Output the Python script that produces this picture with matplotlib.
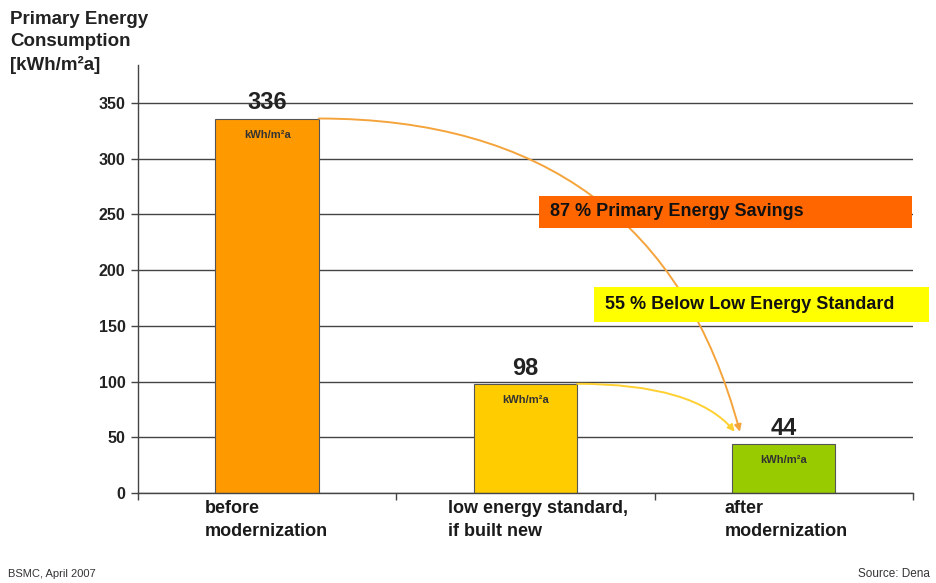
import matplotlib.pyplot as plt
import numpy as np
from matplotlib.patches import Rectangle

plt.rcParams["font.family"] = ["Liberation Sans", "DejaVu Sans"]

categories = ["before\nmodernization", "low energy standard,\nif built new", "after\nmodernization"]
consumption = [336, 98, 44]
bar_colors = ["#FF9900", "#FFCC00", "#99CC00"]
label_shift = [-0.24, -0.30, -0.23]  # left edge of category text relative to bar centre
unit = "kWh/m\u00b2a"
yticks = [0, 50, 100, 150, 200, 250, 300, 350]

fig = plt.figure(figsize=(9.36, 5.83), dpi=100)
ax = fig.add_axes([0.1474, 0.1544, 0.828, 0.7341])

x = np.arange(len(consumption))
bars = ax.bar(x, consumption, width=0.4, color=bar_colors, edgecolor="#555555",
              linewidth=0.8, zorder=2)

ax.set_xlim(-0.5, 2.5)
ax.set_ylim(0, 384)
ax.set_yticks(yticks)
ax.set_yticklabels([str(t) for t in yticks], fontsize=11.5, fontweight="bold", color="#222222")
ax.set_xticks([-0.5, 0.5, 1.5, 2.5])
ax.set_xticklabels([])
ax.tick_params(axis="both", length=5, width=1, color="#444444", direction="out")
ax.tick_params(axis="y", pad=4)
ax.yaxis.grid(True, color="#444444", linewidth=1)
ax.set_axisbelow(True)
for side in ["top", "right"]:
    ax.spines[side].set_visible(False)
for side in ["left", "bottom"]:
    ax.spines[side].set_color("#444444")
    ax.spines[side].set_linewidth(1)

# value and unit labels on each bar
for xi, val in zip(x, consumption):
    ax.annotate(str(val), (xi, val), xytext=(0, 3), textcoords="offset points",
                ha="center", va="bottom", fontsize=17, fontweight="bold", color="#222222", zorder=5)
    ax.annotate(unit, (xi, val), xytext=(0, -8), textcoords="offset points",
                ha="center", va="top", fontsize=8, fontweight="bold", color="#333333", zorder=5)

# category names under the axis
for xi, name, dx in zip(x, categories, label_shift):
    ax.text(xi + dx, -6, name, ha="left", va="top", fontsize=13, fontweight="bold",
            color="#1a1a1a", linespacing=1.45, zorder=5)

# savings arrows
ax.annotate("", xy=(2 - 0.17, consumption[2] + 11), xytext=(0 + 0.2, consumption[0]),
            arrowprops=dict(arrowstyle="-|>", color="#F5A43C", lw=1.4, mutation_scale=10,
                            shrinkA=0, shrinkB=0,
                            connectionstyle="angle3,angleA=0,angleB=-75"), zorder=3)
ax.annotate("", xy=(2 - 0.19, consumption[2] + 11), xytext=(1 + 0.2, consumption[1]),
            arrowprops=dict(arrowstyle="-|>", color="#FFD030", lw=1.4, mutation_scale=10,
                            shrinkA=0, shrinkB=0,
                            connectionstyle="angle3,angleA=0,angleB=-50"), zorder=3)

# highlight boxes
def banner(x0, y0, x1, y1, color, text):
    W, H = 936, 583
    fig.patches.append(Rectangle((x0 / W, 1 - y1 / H), (x1 - x0) / W, (y1 - y0) / H,
                                 transform=fig.transFigure, facecolor=color,
                                 edgecolor="none", zorder=4))
    fig.text((x0 + 11) / W, 1 - (y0 + y1) / 2 / H, text, ha="left", va="center",
             fontsize=13, fontweight="bold", color="#111111", zorder=5)

banner(539, 196, 912, 228, "#FF6600", "87 % Primary Energy Savings")
banner(594, 287, 929, 322, "#FFFF00", "55 % Below Low Energy Standard")

fig.text(10, 583 - 11, "Primary Energy\nConsumption\n[kWh/m\u00b2a]", transform=None,
         ha="left", va="top", fontsize=13.5, fontweight="bold", color="#222222", linespacing=1.42)
fig.text(8 / 936, 1 - 574 / 583, "BSMC, April 2007", ha="left", va="center",
         fontsize=8, color="#333333")
fig.text(930 / 936, 1 - 574 / 583, "Source: Dena", ha="right", va="center",
         fontsize=8.5, color="#333333")

fig.savefig("out.png", dpi=100)
